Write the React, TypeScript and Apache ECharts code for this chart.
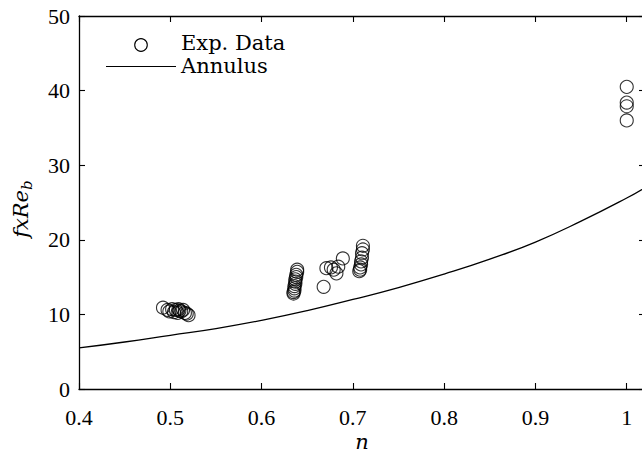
import React, { useEffect, useRef } from "react";
import * as echarts from "echarts";

// Experimental data (n, f x Re_b)
const expN = [
  0.492, 0.497, 0.499, 0.502, 0.504, 0.506, 0.508, 0.51, 0.512, 0.514, 0.516, 0.518, 0.52, 0.509,
  0.639, 0.639, 0.638, 0.638, 0.637, 0.637, 0.637, 0.636, 0.636, 0.636, 0.635, 0.635,
  0.668, 0.671, 0.676, 0.679, 0.682, 0.684, 0.689,
  0.711, 0.711, 0.71, 0.71, 0.709, 0.709, 0.708, 0.708, 0.707,
  1.0, 1.0, 1.0, 1.0,
];
const expY = [
  10.9, 10.6, 10.4, 10.7, 10.3, 10.6, 10.2, 10.5, 10.4, 10.6, 10.2, 10.1, 9.9, 10.7,
  16.0, 15.7, 15.3, 15.0, 14.7, 14.4, 14.1, 13.8, 13.5, 13.2, 13.0, 12.8,
  13.7, 16.2, 16.3, 16.0, 15.5, 16.4, 17.5,
  19.2, 18.7, 18.2, 17.6, 17.1, 16.7, 16.3, 16.0, 15.8,
  40.5, 38.4, 37.9, 36.0,
];

// Annulus curve
const annN = [0.4, 0.45, 0.5, 0.55, 0.6, 0.65, 0.7, 0.75, 0.8, 0.85, 0.9, 0.95, 1.0, 1.02];
const annY = [5.5, 6.3, 7.2, 8.1, 9.2, 10.5, 12.0, 13.6, 15.4, 17.4, 19.7, 22.5, 25.6, 27.0];

const legendNames = ["Exp. Data", "Annulus"];

const TICK_FONT = "Liberation Serif";
const TEXT_FONT = "DejaVu Serif";

export default function App() {
  const ref = useRef<HTMLDivElement>(null);

  useEffect(() => {
    if (!ref.current) return;
    const chart = echarts.init(ref.current, undefined, { renderer: "svg" });

    const fmt = (v: number) => {
      const t = v * 10;
      return Math.abs(t - Math.round(t)) < 1e-6 ? String(Math.round(t) / 10) : "";
    };

    const axisLine = { onZero: false, lineStyle: { color: "#000", width: 1.3 } };
    const axisTick = { inside: true, length: 6, lineStyle: { color: "#000", width: 1.1 } };
    const labelStyle = { fontSize: 22, fontFamily: TICK_FONT, color: "#000" };

    const xBase = { type: "value", min: 0.4, max: 1.02, interval: 0.1, splitLine: { show: false }, axisLine, axisTick };
    const yBase = { type: "value", min: 0, max: 50, interval: 10, splitLine: { show: false }, axisLine, axisTick };

    chart.setOption({
      animation: false,
      backgroundColor: "#fff",
      grid: { left: 79, top: 16, width: 566, height: 373, containLabel: false, outerBoundsMode: "none" },
      xAxis: [
        { ...xBase, position: "bottom", axisLabel: { ...labelStyle, margin: 17, formatter: fmt } },
        { ...xBase, position: "top", axisLabel: { show: false } },
      ],
      yAxis: [
        { ...yBase, position: "left", axisLabel: { ...labelStyle, margin: 9 } },
        { ...yBase, position: "right", axisLabel: { show: false } },
      ],
      series: [
        {
          name: legendNames[1],
          type: "line",
          xAxisIndex: 0,
          yAxisIndex: 0,
          data: annN.map((n, i) => [n, annY[i]]),
          smooth: true,
          showSymbol: false,
          lineStyle: { color: "#000", width: 1.3 },
        },
        {
          name: legendNames[0],
          type: "scatter",
          xAxisIndex: 0,
          yAxisIndex: 0,
          data: expN.map((n, i) => [n, expY[i]]),
          symbol: "circle",
          symbolSize: 13,
          itemStyle: { color: "rgba(0,0,0,0)", borderColor: "#000", borderWidth: 1.1 },
        },
      ],
      graphic: [
        {
          type: "circle",
          shape: { cx: 141, cy: 45, r: 6.3 },
          style: { fill: "none", stroke: "#000", lineWidth: 1.1 },
        },
        {
          type: "line",
          shape: { x1: 106, y1: 66.5, x2: 176, y2: 66.5 },
          style: { stroke: "#000", lineWidth: 1.2 },
        },
        {
          type: "text",
          x: 181,
          y: 43,
          style: {
            text: legendNames[0],
            fontSize: 21,
            fontFamily: TEXT_FONT,
            fill: "#000",
            align: "left",
            verticalAlign: "middle",
            textAlign: "left",
            textVerticalAlign: "middle",
          },
        },
        {
          type: "text",
          x: 181,
          y: 66,
          style: {
            text: legendNames[1],
            fontSize: 21,
            fontFamily: TEXT_FONT,
            fill: "#000",
            align: "left",
            verticalAlign: "middle",
            textAlign: "left",
            textVerticalAlign: "middle",
          },
        },
        {
          type: "text",
          x: 362,
          y: 442,
          style: {
            text: "n",
            fontSize: 21,
            fontStyle: "italic",
            fontFamily: TEXT_FONT,
            fill: "#000",
            align: "center",
            verticalAlign: "middle",
            textAlign: "center",
            textVerticalAlign: "middle",
          },
        },
        {
          type: "group",
          x: 21,
          y: 210,
          rotation: Math.PI / 2,
          children: [
            {
              type: "text",
              x: 20,
              y: 0,
              style: {
                text: "fxRe",
                fontSize: 21,
                fontStyle: "italic",
                fontFamily: TEXT_FONT,
                fill: "#000",
                align: "right",
                verticalAlign: "middle",
                textAlign: "right",
                textVerticalAlign: "middle",
              },
            },
            {
              type: "text",
              x: 20,
              y: 6,
              style: {
                text: "b",
                fontSize: 15,
                fontStyle: "italic",
                fontFamily: TEXT_FONT,
                fill: "#000",
                align: "left",
                verticalAlign: "middle",
                textAlign: "left",
                textVerticalAlign: "middle",
              },
            },
          ],
        },
      ],
    });

    return () => chart.dispose();
  }, []);

  return (
    <div
      ref={ref}
      style={{ position: "absolute", left: 0, top: 0, width: 642, height: 457, background: "#fff" }}
    />
  );
}
